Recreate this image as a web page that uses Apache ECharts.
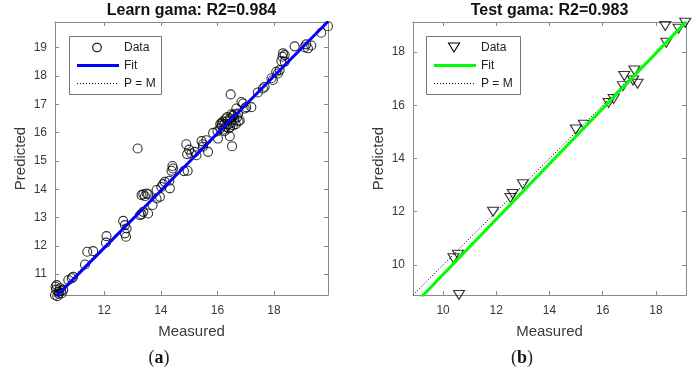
<!DOCTYPE html>
<html>
<head>
<meta charset="utf-8">
<script src="https://cdn.jsdelivr.net/npm/echarts@6/dist/echarts.min.js"></script>
<style>
  html, body { margin: 0; padding: 0; background: #fff; }
  #chart { width: 699px; height: 374px; }
</style>
</head>
<body>
<div id="chart"></div>
<script>
// ---- Learning set: measured vs predicted gamma ----
const learnMeasured = [
  10.26, 10.32, 10.38, 10.44, 10.50, 10.55, 10.34, 10.30, 10.40, 10.28, 10.47,
  10.73, 10.85, 10.90,
  11.32, 11.40, 11.61,
  12.06, 12.08,
  12.67, 12.73, 12.79, 12.73, 12.77,
  13.26, 13.38, 13.55, 13.32, 13.71,
  13.32, 13.38, 13.50, 13.55, 13.44,
  13.85, 13.85, 13.97, 14.02, 14.14, 14.08, 14.32, 14.30,
  13.18,
  14.38, 14.41, 14.82, 14.95, 14.43,
  14.90, 14.93, 15.08, 15.20, 15.26, 15.00,
  15.44, 15.49, 15.61, 15.67, 15.49,
  15.85, 16.02, 16.44, 16.52,
  16.00, 16.10, 16.15, 16.20, 16.25, 16.30, 16.35, 16.40, 16.45, 16.50, 16.55, 16.30, 16.20,
  16.40, 16.60, 16.65, 16.50, 16.35, 16.15, 16.45, 16.70, 16.60, 16.25, 16.55, 16.75, 16.10,
  16.67, 16.73, 16.79, 16.85, 16.97, 16.91, 17.20, 17.02,
  16.47,
  17.43, 17.61, 17.67, 17.91, 17.96,
  18.08, 18.14, 18.20,
  18.26, 18.30, 18.32, 18.38, 18.38,
  18.73,
  19.08, 19.14, 19.20, 19.32,
  19.67, 19.91
];
const learnPredicted = [
  10.26, 10.61, 10.38, 10.50, 10.32, 10.44, 10.22, 10.45, 10.30, 10.55, 10.40,
  10.79, 10.85, 10.90,
  11.34, 11.79, 11.81,
  12.11, 12.34,
  12.88, 12.73, 12.61, 12.44, 12.32,
  13.08, 13.20, 13.14, 13.11, 13.44,
  13.79, 13.82, 13.85, 13.82, 13.75,
  13.97, 13.67, 13.73, 14.08, 14.26, 14.18, 14.03, 14.30,
  15.44,
  14.65, 14.82, 14.64, 14.65, 14.73,
  15.59, 15.24, 15.26, 15.32, 15.20, 15.40,
  15.70, 15.59, 15.73, 15.32, 15.50,
  15.99, 15.79, 15.87, 15.52,
  16.05, 16.15, 16.25, 16.10, 16.30, 16.20, 16.40, 16.30, 16.50, 16.35, 16.60, 16.50, 16.40,
  16.15, 16.45, 16.30, 16.65, 16.55, 16.35, 16.20, 16.55, 16.65, 16.05, 16.25, 16.40, 16.30,
  16.85, 16.67, 16.43, 17.08, 16.85, 17.03, 16.90, 16.90,
  17.35,
  17.42, 17.56, 17.62, 17.92, 17.86,
  18.15, 18.09, 18.21,
  18.53, 18.68, 18.80, 18.74, 18.51,
  19.05,
  19.02, 19.12, 18.98, 19.08,
  19.53, 19.76
];

// ---- Test set ----
const testMeasured = [
  18.35, 19.10, 18.85, 18.39, 17.19, 16.81, 17.14, 17.31, 16.76, 16.22,
  16.41, 14.99, 15.29, 13.00, 12.62, 12.53, 11.88, 10.39, 10.56, 10.60
];
const testPredicted = [
  18.98, 19.10, 18.88, 18.35, 17.31, 17.10, 16.93, 16.81, 16.72, 16.09,
  16.24, 15.09, 15.27, 13.03, 12.67, 12.52, 12.00, 10.25, 10.38, 8.87
];

// Linear fits [slope, intercept]
const learnFit = [1.012, -0.22];
const testFit = [1.04, -0.76];

// Axis limits (both axes share one range per panel) and tick values
const learnLimits = [10.26, 19.91];
const testLimits = [8.87, 19.13];
const learnXTicks = [12, 14, 16, 18];
const learnYTicks = [11, 12, 13, 14, 15, 16, 17, 18, 19];
const testXTicks = [10, 12, 14, 16, 18];
const testYTicks = [10, 12, 14, 16, 18];

const titles = ['Learn gama: R2=0.984', 'Test gama: R2=0.983'];
const captions = ['a', 'b'];
const legendLabels = ['Data', 'Fit', 'P = M'];

const FONT = '"Liberation Sans", Arial, Helvetica, sans-serif';
const SERIF = '"Liberation Serif", "DejaVu Serif", serif';
const AXIS_COLOR = '#8a8a8a';
const TEXT_COLOR = '#3a3a3a';

const zip = (a, b) => a.map((v, i) => [v, b[i]]);
// Fit segment spanning the panel (a little past the left edge; the grid clips it)
const fitLine = (fit, lim) => [lim[0] - 0.5, lim[1]].map(x => [x, fit[0] * x + fit[1]]);

function xAxes(grid, lim, ticks) {
  const base = {
    type: 'value', gridIndex: grid, min: lim[0], max: lim[1],
    axisLine: { show: true, onZero: false, lineStyle: { color: AXIS_COLOR, width: 1 } },
    axisTick: { show: true, inside: true, length: 4, customValues: ticks, lineStyle: { color: AXIS_COLOR } },
    splitLine: { show: false }
  };
  return [
    Object.assign({}, base, {
      position: 'bottom',
      name: 'Measured', nameLocation: 'middle', nameGap: 29,
      nameTextStyle: { color: TEXT_COLOR, fontSize: 15, fontFamily: FONT },
      axisLabel: { customValues: ticks, margin: 10, color: TEXT_COLOR, fontSize: 12, fontFamily: FONT }
    }),
    Object.assign({}, base, { position: 'top', axisLabel: { show: false } })
  ];
}

function yAxes(grid, lim, ticks) {
  const base = {
    type: 'value', gridIndex: grid, min: lim[0], max: lim[1],
    axisLine: { show: true, onZero: false, lineStyle: { color: AXIS_COLOR, width: 1 } },
    axisTick: { show: true, inside: true, length: 4, customValues: ticks, lineStyle: { color: AXIS_COLOR } },
    splitLine: { show: false }
  };
  return [
    Object.assign({}, base, {
      position: 'left',
      name: 'Predicted', nameLocation: 'middle', nameGap: 27,
      nameTextStyle: { color: TEXT_COLOR, fontSize: 15, fontFamily: FONT },
      axisLabel: { customValues: ticks, margin: 8, color: TEXT_COLOR, fontSize: 12, fontFamily: FONT }
    }),
    Object.assign({}, base, { position: 'right', axisLabel: { show: false } })
  ];
}

function panelSeries(axisIdx, points, fit, lim, fitColor, symbol) {
  return [
    {
      type: 'line', xAxisIndex: axisIdx, yAxisIndex: axisIdx, z: 1,
      data: lim.map(v => [v, v]), symbol: 'none', silent: true,
      lineStyle: { color: '#000', width: 1, type: [1, 2] }
    },
    {
      type: 'scatter', xAxisIndex: axisIdx, yAxisIndex: axisIdx, z: 2, clip: false,
      data: points, symbol: symbol.shape, symbolSize: symbol.size, symbolRotate: symbol.rotate,
      itemStyle: { color: 'rgba(0,0,0,0)', borderColor: '#000', borderWidth: 1.1 }
    },
    {
      type: 'line', xAxisIndex: axisIdx, yAxisIndex: axisIdx, z: 3, clip: true,
      data: fitLine(fit, lim), symbol: 'none', silent: true,
      lineStyle: { color: fitColor, width: 3 }
    }
  ];
}

// Hand-built legend box in the upper-left of each panel
function legend(x0, y0, w, fitColor, markerShape) {
  const rowY = [y0 + 11.5, y0 + 29.5, y0 + 47.5];
  const mx = x0 + 28, lx0 = x0 + 8, lx1 = x0 + 50, tx = x0 + 55;
  const marker = markerShape === 'circle'
    ? { type: 'circle', shape: { cx: mx, cy: rowY[0], r: 4.3 }, style: { fill: 'none', stroke: '#000', lineWidth: 1.1 } }
    : { type: 'polygon', shape: { points: [[mx - 5.5, rowY[0] - 4.5], [mx + 5.5, rowY[0] - 4.5], [mx, rowY[0] + 4.5]] },
        style: { fill: 'none', stroke: '#000', lineWidth: 1.1 } };
  return [
    { type: 'rect', shape: { x: x0 + 0.5, y: y0 + 0.5, width: w, height: 58 }, style: { fill: '#fff', stroke: '#777', lineWidth: 1 }, z: 10 },
    Object.assign(marker, { z: 11 }),
    { type: 'line', shape: { x1: lx0, y1: rowY[1], x2: lx1, y2: rowY[1] }, style: { stroke: fitColor, lineWidth: 3 }, z: 11 },
    { type: 'line', shape: { x1: lx0, y1: rowY[2], x2: lx1, y2: rowY[2] }, style: { stroke: '#000', lineWidth: 1, lineDash: [1, 2] }, z: 11 }
  ].concat(legendLabels.map((t, i) => ({
    type: 'text', z: 11, x: tx, y: rowY[i],
    style: { text: t, font: '12px ' + FONT, fill: '#222', textVerticalAlign: 'middle' }
  })));
}

function caption(cx, letter) {
  return {
    type: 'text', x: cx, y: 358, z: 10,
    style: {
      text: '{p|(}{l|' + letter + '}{p|)}',
      textAlign: 'center', textVerticalAlign: 'middle',
      rich: {
        p: { font: '18px ' + SERIF, fill: '#222' },
        l: { font: 'bold 18px ' + SERIF, fill: '#111' }
      }
    }
  };
}

function title(cx, text) {
  return {
    type: 'text', x: cx, y: 11, z: 10,
    style: { text: text, font: 'bold 16px ' + FONT, fill: '#111', textAlign: 'center', textVerticalAlign: 'middle' }
  };
}

const chart = echarts.init(document.getElementById('chart'), null, { renderer: 'canvas' });
chart.setOption({
  animation: false,
  backgroundColor: '#fff',
  grid: [
    { left: 55, top: 22, width: 273, height: 273 },
    { left: 413, top: 22, width: 273, height: 273 }
  ],
  xAxis: xAxes(0, learnLimits, learnXTicks).concat(xAxes(1, testLimits, testXTicks)),
  yAxis: yAxes(0, learnLimits, learnYTicks).concat(yAxes(1, testLimits, testYTicks)),
  series: panelSeries(0, zip(learnMeasured, learnPredicted), learnFit, learnLimits, '#0000ff',
                      { shape: 'circle', size: 9, rotate: 0 })
    .concat(panelSeries(2, zip(testMeasured, testPredicted), testFit, testLimits, '#00ff00',
                        { shape: 'triangle', size: [11, 9], rotate: 180 })),
  graphic: [
    title(191.5, titles[0]), title(549.5, titles[1]),
    caption(159, captions[0]), caption(522, captions[1])
  ].concat(legend(69, 36, 92, '#0000ff', 'circle'))
   .concat(legend(426, 36, 94, '#00ff00', 'triangle'))
});
</script>
</body>
</html>
